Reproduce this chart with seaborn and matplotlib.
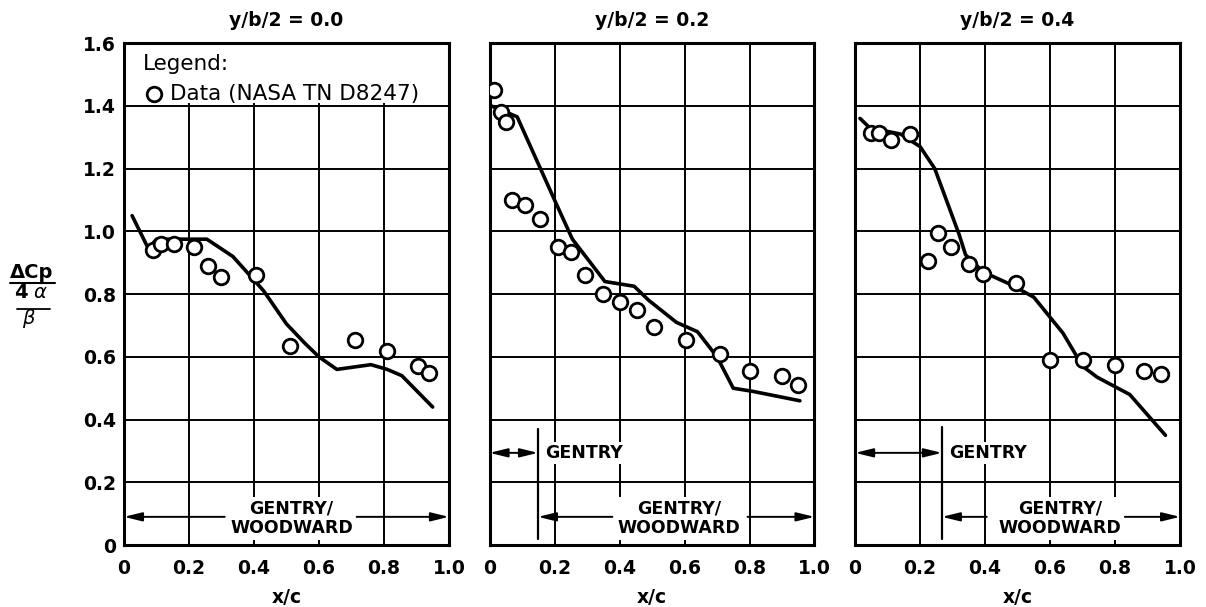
import matplotlib
matplotlib.use("Agg")
import matplotlib.pyplot as plt
import seaborn as sns
from matplotlib.lines import Line2D

# panel titles and tick labels
titles = ["y/b/2 = 0.0", "y/b/2 = 0.2", "y/b/2 = 0.4"]
xticks = [0, 0.2, 0.4, 0.6, 0.8, 1.0]
xtick_labels = ["0", "0.2", "0.4", "0.6", "0.8", "1.0"]
yticks = [0, 0.2, 0.4, 0.6, 0.8, 1.0, 1.2, 1.4, 1.6]
ytick_labels = ["0", "0.2", "0.4", "0.6", "0.8", "1.0", "1.2", "1.4", "1.6"]

# y/b/2 = 0.0
x0_data = [0.09, 0.115, 0.155, 0.215, 0.26, 0.30, 0.405, 0.51, 0.71, 0.81, 0.905, 0.94]
y0_data = [0.94, 0.96, 0.96, 0.95, 0.89, 0.855, 0.86, 0.635, 0.655, 0.62, 0.57, 0.55]
x0_line = [0.025, 0.075, 0.10, 0.255, 0.335, 0.40, 0.43, 0.50, 0.555, 0.60, 0.655, 0.76, 0.81, 0.855, 0.95]
y0_line = [1.05, 0.945, 0.975, 0.975, 0.92, 0.845, 0.81, 0.705, 0.645, 0.60, 0.56, 0.575, 0.56, 0.54, 0.44]

# y/b/2 = 0.2
x1_data = [0.015, 0.035, 0.05, 0.07, 0.11, 0.155, 0.21, 0.25, 0.295, 0.35, 0.40, 0.455, 0.505, 0.605, 0.71, 0.80, 0.90, 0.95]
y1_data = [1.45, 1.38, 1.35, 1.10, 1.085, 1.04, 0.95, 0.935, 0.86, 0.80, 0.775, 0.75, 0.695, 0.655, 0.61, 0.555, 0.54, 0.51]
x1_line = [0.005, 0.085, 0.20, 0.255, 0.355, 0.445, 0.49, 0.575, 0.64, 0.70, 0.75, 0.81, 0.955]
y1_line = [1.40, 1.365, 1.10, 0.975, 0.84, 0.825, 0.78, 0.71, 0.68, 0.60, 0.50, 0.49, 0.46]

# y/b/2 = 0.4
x2_data = [0.05, 0.075, 0.11, 0.17, 0.225, 0.255, 0.295, 0.35, 0.395, 0.495, 0.60, 0.70, 0.80, 0.89, 0.94]
y2_data = [1.315, 1.315, 1.29, 1.31, 0.905, 0.995, 0.95, 0.895, 0.865, 0.835, 0.59, 0.59, 0.575, 0.555, 0.545]
x2_line = [0.015, 0.045, 0.14, 0.20, 0.245, 0.32, 0.34, 0.395, 0.48, 0.55, 0.64, 0.70, 0.745, 0.845, 0.955]
y2_line = [1.36, 1.33, 1.31, 1.27, 1.20, 0.99, 0.925, 0.87, 0.83, 0.79, 0.675, 0.57, 0.535, 0.48, 0.35]

# where the GENTRY region ends on each panel (None = no GENTRY marker)
gentry_end = [None, 0.149, 0.267]
gentry_top = [None, 0.37, 0.377]
gw_text_x = [0.516, 0.583, 0.63]
gw_gap = [(0.31, 0.716), (0.378, 0.794), (0.405, 0.83)]

panels = [
    (x0_data, y0_data, x0_line, y0_line),
    (x1_data, y1_data, x1_line, y1_line),
    (x2_data, y2_data, x2_line, y2_line),
]

sns.set_theme(style="white")
plt.rcParams["font.family"] = ["DejaVu Sans"]
plt.rcParams["font.weight"] = "bold"
plt.rcParams["text.color"] = "black"
plt.rcParams["axes.labelcolor"] = "black"
plt.rcParams["xtick.color"] = "black"
plt.rcParams["ytick.color"] = "black"

fig, axes = plt.subplots(1, 3, figsize=(12.06, 6.07), dpi=100, sharey=True)
fig.subplots_adjust(left=0.1028, right=0.9785, bottom=0.102, top=0.929, wspace=0.125)

arrow_kw = dict(arrowstyle="-|>,head_length=0.9,head_width=0.22", color="black",
                lw=1.4, shrinkA=0, shrinkB=0)

for i, ax in enumerate(axes):
    xd, yd, xl, yl = panels[i]
    ax.set_axisbelow(True)
    ax.grid(True, color="black", lw=1.4)
    sns.lineplot(x=xl, y=yl, ax=ax, color="black", lw=2.6, sort=False, estimator=None, zorder=3)
    sns.scatterplot(x=xd, y=yd, ax=ax, s=110, facecolor="white", edgecolor="black",
                    linewidth=2.0, zorder=4, label="Data (NASA TN D8247)" if i == 0 else None,
                    legend=False)
    ax.set_xlim(0, 1.0)
    ax.set_ylim(0, 1.6)
    ax.set_xticks(xticks)
    ax.set_xticklabels(xtick_labels)
    ax.set_yticks(yticks)
    ax.set_yticklabels(ytick_labels)
    ax.tick_params(axis="both", length=0, labelsize=13.5)
    ax.tick_params(axis="x", pad=10)
    ax.tick_params(axis="y", pad=6)
    for sp in ax.spines.values():
        sp.set_color("black")
        sp.set_linewidth(2.2)
    ax.set_title(titles[i], fontsize=13.5, fontweight="bold", pad=12)
    ax.set_xlabel("x/c", fontsize=13.5, fontweight="bold", labelpad=7)
    ax.set_ylabel("")

    # GENTRY / WOODWARD range markers
    ax.text(gw_text_x[i], 0.085, "GENTRY/\nWOODWARD", ha="center", va="center",
            fontsize=12.5, fontweight="bold", linespacing=1.15, zorder=5,
            bbox=dict(facecolor="white", edgecolor="none", pad=1.5))
    start = gentry_end[i] if gentry_end[i] is not None else 0.0
    ax.annotate("", xy=(start, 0.09), xytext=(gw_gap[i][0], 0.09), arrowprops=arrow_kw, zorder=5)
    ax.annotate("", xy=(1.0, 0.09), xytext=(gw_gap[i][1], 0.09), arrowprops=arrow_kw, zorder=5)

    if gentry_end[i] is not None:
        ge = gentry_end[i]
        ax.plot([ge, ge], [0.02, gentry_top[i]], color="black", lw=1.6, zorder=5)
        ax.annotate("", xy=(0.0, 0.294), xytext=(ge, 0.294),
                    arrowprops=dict(arrowstyle="<|-|>,head_length=0.9,head_width=0.22",
                                    color="black", lw=1.4, shrinkA=0, shrinkB=0), zorder=5)
        ax.text(ge + 0.022, 0.294, "GENTRY", ha="left", va="center", fontsize=12.5,
                fontweight="bold", zorder=5,
                bbox=dict(facecolor="white", edgecolor="none", pad=1.5))

# legend area on the first panel
ax0 = axes[0]
ax0.axhspan(1.41, 1.6, facecolor="white", lw=0, zorder=1)
leg = ax0.legend(title="Legend:", loc="upper left", bbox_to_anchor=(0.025, 1.0),
                 frameon=False, alignment="left", scatterpoints=1, handlelength=1.0,
                 handletextpad=0.25, borderpad=0, labelspacing=0.45,
                 prop={"size": 15.5, "weight": "normal"},
                 title_fontproperties={"size": 15.5, "weight": "normal"})
leg.set_zorder(6)

# stacked y label: dCp / (4 alpha / beta)
fig.text(32 / 1206, 1 - 272 / 607, "\u0394Cp", ha="center", va="center", fontsize=14, fontweight="bold")
fig.add_artist(Line2D([10 / 1206, 55 / 1206], [1 - 283 / 607] * 2, color="black", lw=1.5))
fig.text(21 / 1206, 1 - 293 / 607, "4", ha="center", va="center", fontsize=14, fontweight="bold")
fig.text(40 / 1206, 1 - 293 / 607, "\u03b1", ha="center", va="center", fontsize=14,
         fontweight="normal", style="italic")
fig.add_artist(Line2D([17 / 1206, 50 / 1206], [1 - 309 / 607] * 2, color="black", lw=1.3))
fig.text(28 / 1206, 1 - 319 / 607, "\u03b2", ha="center", va="center", fontsize=14,
         fontweight="normal", style="italic")

fig.savefig("out.png", dpi=100, facecolor="white")
